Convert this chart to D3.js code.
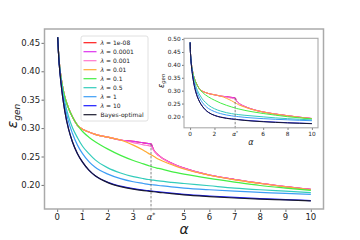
<!DOCTYPE html>
<html>
<head>
<meta charset="utf-8">
<script src="https://cdn.jsdelivr.net/npm/d3@7"></script>
<style>
  body { margin: 0; background: #fff; }
  svg text { font-family: "DejaVu Sans", sans-serif; fill: #222; }
</style>
</head>
<body>
<script>
// sample ratio alpha and generalisation error per lambda
var alphas = [0.005, 0.02, 0.06, 0.12, 0.2, 0.3, 0.45, 0.6, 0.8, 1.0, 1.25, 1.5, 2.0, 2.5, 3.0, 3.4, 3.6, 3.7, 3.8, 4.0, 4.5, 5, 6, 7, 8, 9, 10];
var alphaStar = 3.7;

var errRed     = [0.487, 0.460, 0.428, 0.400, 0.376, 0.355, 0.335, 0.320, 0.305, 0.298, 0.293, 0.289, 0.284, 0.279, 0.2765, 0.274, 0.2728, 0.2722, 0.262, 0.252, 0.2385, 0.2295, 0.2175, 0.2095, 0.203, 0.197, 0.192];
var errMagenta = [0.487, 0.460, 0.428, 0.400, 0.376, 0.355, 0.335, 0.320, 0.305, 0.298, 0.293, 0.289, 0.284, 0.279, 0.2765, 0.274, 0.2728, 0.2722, 0.262, 0.252, 0.2385, 0.2295, 0.2175, 0.2095, 0.203, 0.197, 0.192];
var errPink    = [0.487, 0.460, 0.428, 0.400, 0.376, 0.355, 0.335, 0.320, 0.305, 0.298, 0.293, 0.289, 0.284, 0.279, 0.2745, 0.2705, 0.269, 0.268, 0.261, 0.2515, 0.238, 0.229, 0.2172, 0.2093, 0.2028, 0.1968, 0.1918];
var errOrange  = [0.487, 0.460, 0.428, 0.400, 0.376, 0.355, 0.335, 0.320, 0.305, 0.298, 0.293, 0.289, 0.284, 0.279, 0.270, 0.261, 0.2555, 0.253, 0.2505, 0.245, 0.236, 0.228, 0.217, 0.209, 0.2025, 0.1965, 0.1915];
var errGreen   = [0.487, 0.460, 0.428, 0.400, 0.376, 0.355, 0.335, 0.320, 0.305, 0.294, 0.284, 0.276, 0.263, 0.252, 0.243, 0.237, 0.234, 0.2325, 0.231, 0.229, 0.2235, 0.219, 0.2115, 0.205, 0.199, 0.1945, 0.1905];
var errTurq    = [0.487, 0.460, 0.427, 0.397, 0.370, 0.346, 0.320, 0.301, 0.283, 0.268, 0.255, 0.244, 0.230, 0.221, 0.2145, 0.211, 0.2095, 0.209, 0.2083, 0.207, 0.2045, 0.2025, 0.1985, 0.1945, 0.1915, 0.189, 0.1865];
var errLBlue   = [0.487, 0.460, 0.426, 0.395, 0.366, 0.340, 0.311, 0.291, 0.270, 0.255, 0.241, 0.231, 0.219, 0.211, 0.2055, 0.2025, 0.201, 0.2005, 0.200, 0.199, 0.1965, 0.1945, 0.1915, 0.189, 0.187, 0.185, 0.1835];
var errBlue    = [0.487, 0.460, 0.425, 0.392, 0.360, 0.330, 0.298, 0.276, 0.255, 0.240, 0.226, 0.216, 0.2045, 0.1978, 0.1933, 0.1908, 0.1898, 0.1893, 0.1888, 0.1878, 0.1855, 0.1835, 0.1805, 0.178, 0.1758, 0.1742, 0.1725];
var errBayes   = [0.487, 0.460, 0.425, 0.392, 0.360, 0.330, 0.298, 0.276, 0.255, 0.240, 0.226, 0.216, 0.204, 0.197, 0.1925, 0.190, 0.189, 0.1885, 0.188, 0.187, 0.1845, 0.1825, 0.1795, 0.177, 0.175, 0.1735, 0.172];

var seriesNames  = ["1e-08", "0.0001", "0.001", "0.01", "0.1", "0.5", "1", "10", "Bayes-optimal"];
var seriesColors = ["#ff1a1a", "#dd33ee", "#ff77cc", "#ffaa33", "#44ee44", "#33ccbb", "#3d9df5", "#1a1aff", "#1a1a2e"];
var seriesValues = [errRed, errMagenta, errPink, errOrange, errGreen, errTurq, errLBlue, errBlue, errBayes];

var mainTicksX = [0, 1, 2, 3, alphaStar, 5, 6, 7, 8, 9, 10];
var mainTicksY = [0.20, 0.25, 0.30, 0.35, 0.40, 0.45];
var insetTicksX = [0, 2, alphaStar, 6, 8, 10];
var insetTicksY = [0.20, 0.25, 0.30, 0.35, 0.40, 0.45, 0.50];

var svg = d3.select("body")
  .append("svg")
  .attr("width", 360)
  .attr("height", 240);

// draws one set of axes (used for main plot and inset)
function drawPanel(p) {
  var x = d3.scaleLinear().domain([-0.5, 10.5]).range([p.left, p.right]);
  var y = d3.scaleLinear().domain(p.yDomain).range([p.bottom, p.top]);
  var g = svg.append("g");

  g.append("rect")
    .attr("x", p.left).attr("y", p.top)
    .attr("width", p.right - p.left).attr("height", p.bottom - p.top)
    .attr("fill", "#fff");

  g.append("clipPath").attr("id", p.id)
    .append("rect")
    .attr("x", p.left).attr("y", p.top)
    .attr("width", p.right - p.left).attr("height", p.bottom - p.top);

  var line = d3.line()
    .x(d => x(d[0]))
    .y(d => y(d[1]))
    .curve(d3.curveMonotoneX);

  var curves = g.append("g").attr("clip-path", `url(#${p.id})`);
  seriesValues.forEach(function(vals, i) {
    var pts = alphas.map((a, j) => [a, vals[j]]).slice(p.skip);
    curves.append("path")
      .attr("d", line(pts))
      .attr("fill", "none")
      .attr("stroke", seriesColors[i])
      .attr("stroke-width", p.lw);
  });

  // dashed marker at alpha*
  g.append("line")
    .attr("x1", x(alphaStar)).attr("x2", x(alphaStar))
    .attr("y1", y(errMagenta[alphas.indexOf(alphaStar)]))
    .attr("y2", p.bottom + p.tick)
    .attr("stroke", "#666")
    .attr("stroke-width", 0.8)
    .attr("stroke-dasharray", "2.5,1.5");

  // axes
  var bottomAxis = d3.axisBottom(x).tickValues(p.ticksX).tickSize(p.tick).tickFormat("");
  var leftAxis = d3.axisLeft(y).tickValues(p.ticksY).tickSize(p.tick).tickFormat("");
  var xAxis = g.append("g").attr("transform", `translate(0, ${p.bottom})`).call(bottomAxis);
  var yAxis = g.append("g").attr("transform", `translate(${p.left}, 0)`).call(leftAxis);
  xAxis.select(".domain").remove();
  yAxis.select(".domain").remove();
  xAxis.selectAll(".tick line").attr("stroke", "#333").attr("stroke-width", 0.7);
  yAxis.selectAll(".tick line").attr("stroke", "#333").attr("stroke-width", 0.7);
  // the tick at alpha* is drawn by the dashed line
  xAxis.selectAll(".tick").filter(d => d === alphaStar).select("line").remove();

  p.ticksX.forEach(function(t) {
    var lab = g.append("text")
      .attr("x", x(t))
      .attr("y", p.xLabY)
      .attr("text-anchor", "middle")
      .attr("font-size", p.fs + "px");
    if (t === alphaStar) {
      lab.append("tspan").attr("font-style", "italic").text("α");
      lab.append("tspan").attr("dy", -p.fs * 0.35).attr("font-size", (p.fs * 0.7) + "px").text("*");
    } else {
      lab.text(t);
    }
  });
  p.ticksY.forEach(function(t) {
    g.append("text")
      .attr("x", p.left - p.tick - 1.3)
      .attr("y", y(t) + p.fs * 0.36)
      .attr("text-anchor", "end")
      .attr("font-size", p.fs + "px")
      .text(t.toFixed(2));
  });

  // spines
  g.append("rect")
    .attr("x", p.left).attr("y", p.top)
    .attr("width", p.right - p.left).attr("height", p.bottom - p.top)
    .attr("fill", "none")
    .attr("stroke", "#aaa")
    .attr("stroke-width", p.spine);

  // axis titles
  g.append("text")
    .attr("x", (p.left + p.right) / 2)
    .attr("y", p.titleY)
    .attr("text-anchor", "middle")
    .attr("font-style", "italic")
    .attr("font-size", p.titleFs + "px")
    .text("α");

  var yl = g.append("text")
    .attr("transform", `translate(${p.yTitleX}, ${p.yTitleY}) rotate(-90)`)
    .attr("text-anchor", "middle")
    .attr("font-style", "italic")
    .attr("font-size", p.titleFs + "px");
  yl.append("tspan").text("ε");
  yl.append("tspan").attr("dy", p.titleFs * 0.18).attr("font-size", (p.titleFs * 0.65) + "px").text("gen");

  return g;
}

// main chart
drawPanel({
  id: "clipMain", left: 44.5, right: 323.5, top: 29, bottom: 209,
  yDomain: [0.1576, 0.4744], ticksX: mainTicksX, ticksY: mainTicksY,
  tick: 3, fs: 8.5, lw: 1.2, spine: 1.5, skip: 1,
  xLabY: 219.5, titleY: 233.5, titleFs: 14, yTitleX: 17, yTitleY: 116
});

// legend
var legend = svg.append("g");
legend.append("rect")
  .attr("x", 81).attr("y", 36)
  .attr("width", 67).attr("height", 85)
  .attr("rx", 2)
  .attr("fill", "#fff").attr("fill-opacity", 0.8)
  .attr("stroke", "#d8d8d8").attr("stroke-width", 0.8);

seriesNames.forEach(function(name, i) {
  var yy = 42.7 + 9 * i;
  legend.append("line")
    .attr("x1", 83.5).attr("x2", 96.5)
    .attr("y1", yy).attr("y2", yy)
    .attr("stroke", seriesColors[i])
    .attr("stroke-width", 1.2);
  var t = legend.append("text")
    .attr("x", 100.5)
    .attr("y", yy + 2.2)
    .attr("font-size", "6px");
  if (name === "Bayes-optimal") {
    t.text(name);
  } else {
    t.append("tspan").attr("font-style", "italic").text("λ");
    t.append("tspan").text(" = " + name);
  }
});

// inset
drawPanel({
  id: "clipInset", left: 184, right: 318, top: 38.3, bottom: 127.8,
  yDomain: [0.156, 0.503], ticksX: insetTicksX, ticksY: insetTicksY,
  tick: 2, fs: 5.8, lw: 1, spine: 1.1, skip: 0,
  xLabY: 136.3, titleY: 144.5, titleFs: 8, yTitleX: 164, yTitleY: 81
});
</script>
</body>
</html>
